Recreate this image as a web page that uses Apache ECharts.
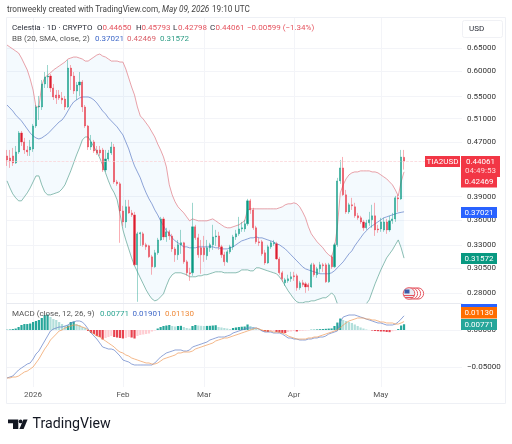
<!DOCTYPE html>
<html>
<head>
<meta charset="utf-8">
<title>TIA2USD</title>
<style>html,body{margin:0;padding:0;background:#fff}#main{width:512px;height:444px}</style>
<script src="https://cdn.jsdelivr.net/npm/echarts@6/dist/echarts.min.js"></script>
</head>
<body>
<div id="main"></div>
<script>
// daily bars from 23 Dec 2025 to 9 May 2026
var opens = [.4486,.4455,.4486,.4379,.4548,.4854,.4707,.4579,.4579,.4595,
  .4973,.5308,.5308,.5744,.5884,.5904,.5666,.5531,.5531,.5474,
  .5455,.5308,.6068,.5904,.5607,.5724,.5784,.5308,.4973,.4626,
  .4707,.4579,.4579,.4579,.4275,.4440,.4532,.4626,.4103,.4075,
  .3713,.3576,.3766,.3688,.3663,.3085,.3432,.3432,.3305,.3293,
  .3171,.3064,.3215,.3361,.3613,.3396,.3456,.3408,.3259,.3193,
  .3305,.3328,.3117,.3002,.3002,.3516,.3385,.3271,.3271,.3182,
  .3271,.3305,.3396,.3408,.3282,.3193,.3117,.3226,.3282,.3396,
  .3432,.3491,.3491,.3552,.3844,.3726,.3504,.3339,.3339,.3215,
  .3106,.3282,.3316,.3316,.3149,.3002,.2900,.2920,.2940,.2971,
  .2971,.2851,.2900,.2890,.2880,.2860,.3085,.2982,.3043,.3085,
  .3085,.2910,.3171,.3064,.3305,.4117,.4305,.3924,.3701,.3792,
  .3766,.3651,.3626,.3576,.3504,.3564,.3601,.3651,.3491,.3491,
  .3479,.3576,.3479,.3589,.3613,.3884,.3870,.44650];
var highs = [.4579,.4579,.4611,.4642,.4887,.4887,.4772,.4642,.4739,.5007,
  .5344,.5512,.5823,.5985,.6131,.5945,.5744,.5626,.5626,.5588,
  .5512,.6237,.6131,.5985,.5784,.5985,.5823,.5344,.4990,.4821,
  .4739,.4642,.4642,.4611,.4579,.4579,.4707,.4674,.4131,.4103,
  .3779,.3857,.3857,.3726,.3701,.3456,.3456,.3456,.3328,.3305,
  .3193,.3248,.3385,.3638,.3638,.3504,.3479,.3432,.3282,.3361,
  .3479,.3339,.3138,.3054,.3818,.3540,.3432,.3361,.3408,.3361,
  .3328,.3540,.3479,.3456,.3305,.3226,.3248,.3305,.3420,.3479,
  .3638,.3576,.3601,.3870,.3870,.3753,.3528,.3385,.3361,.3248,
  .3305,.3350,.3361,.3339,.3171,.3022,.2950,.2982,.3012,.3012,
  .2992,.2920,.2930,.2910,.2900,.3106,.3106,.3064,.3117,.3106,
  .3106,.3106,.3193,.3328,.4160,.4424,.4470,.3991,.3818,.3884,
  .3818,.3688,.3651,.3601,.3601,.3701,.3792,.3818,.3540,.3626,
  .3626,.3613,.3651,.3688,.3910,.3924,.4579,.45793];
var lows = [.4334,.4305,.4334,.4364,.4517,.4642,.4517,.4486,.4486,.4548,
  .4939,.5076,.5253,.5666,.5666,.5588,.5437,.5363,.5437,.5363,
  .5253,.5290,.5626,.5550,.5437,.5512,.5217,.4939,.4579,.4579,
  .4532,.4501,.4486,.4246,.4246,.4409,.4501,.4075,.4047,.3328,
  .3528,.3504,.3676,.3638,.3075,.2717,.3293,.3282,.3248,.3160,
  .2982,.3054,.3193,.3350,.3361,.3339,.3361,.3226,.3117,.3138,
  .3204,.3096,.2971,.2920,.2971,.3361,.3160,.2992,.3117,.3138,
  .3226,.3248,.3293,.3248,.3160,.3075,.3106,.3204,.3248,.3361,
  .3408,.3456,.3456,.3528,.3676,.3479,.3316,.3293,.3182,.3085,
  .3096,.3259,.3293,.3138,.2982,.2910,.2870,.2900,.2910,.2920,
  .2822,.2831,.2860,.2802,.2822,.2851,.2961,.2950,.3002,.3012,
  .2900,.2900,.3043,.3054,.3282,.4075,.3910,.3676,.3676,.3726,
  .3626,.3601,.3552,.3468,.3479,.3528,.3504,.3408,.3444,.3456,
  .3456,.3432,.3456,.3552,.3576,.3701,.3857,.42798];
var closes = [.4424,.4409,.4379,.4548,.4854,.4707,.4579,.4548,.4626,.4973,
  .5308,.5326,.5744,.5884,.5904,.5666,.5493,.5474,.5474,.5437,
  .5308,.6068,.5904,.5607,.5724,.5784,.5308,.4973,.4626,.4707,
  .4563,.4532,.4532,.4275,.4440,.4532,.4626,.4103,.4075,.3713,
  .3576,.3766,.3688,.3663,.3085,.3432,.3444,.3305,.3282,.3171,
  .3064,.3215,.3361,.3613,.3396,.3456,.3408,.3259,.3193,.3305,
  .3328,.3117,.3002,.2992,.3516,.3385,.3193,.3193,.3193,.3271,
  .3305,.3396,.3408,.3282,.3193,.3117,.3226,.3282,.3396,.3432,
  .3491,.3504,.3552,.3844,.3726,.3504,.3339,.3328,.3204,.3106,
  .3282,.3328,.3328,.3149,.3002,.2940,.2930,.2940,.2961,.2961,
  .2851,.2900,.2880,.2860,.2860,.3085,.2982,.3043,.3085,.3075,
  .2910,.3085,.3064,.3305,.4117,.4305,.3924,.3701,.3792,.3779,
  .3651,.3626,.3576,.3504,.3564,.3601,.3651,.3479,.3479,.3576,
  .3576,.3479,.3589,.3613,.3884,.3870,.4470,.44061];

var bbUpper = [.6567,.6522,.6478,.6433,.6389,.6280,.6152,.6027,.5844,.5626,
  .5308,.5308,.5724,.5864,.5924,.5965,.6027,.6068,.6110,.6152,
  .6194,.6258,.6280,.6301,.6301,.6280,.6258,.6215,.6215,.6258,
  .6301,.6345,.6367,.6323,.6301,.6258,.6215,.6215,.6215,.6194,
  .6194,.6047,.5864,.5685,.5531,.5308,.5146,.5093,.5024,.4956,
  .4871,.4788,.4674,.4579,.4470,.4319,.4061,.3924,.3831,.3766,
  .3726,.3688,.3638,.3589,.3613,.3601,.3589,.3589,.3589,.3589,
  .3601,.3613,.3589,.3564,.3540,.3516,.3504,.3504,.3516,.3528,
  .3540,.3564,.3589,.3726,.3740,.3740,.3740,.3740,.3740,.3740,
  .3740,.3740,.3740,.3740,.3753,.3766,.3792,.3805,.3805,.3818,
  .3805,.3766,.3701,.3626,.3516,.3432,.3385,.3339,.3305,.3271,
  .3226,.3193,.3171,.3271,.3516,.3951,.4061,.4146,.4203,.4232,
  .4246,.4246,.4261,.4261,.4261,.4261,.4246,.4246,.4232,.4203,
  .4174,.4146,.4103,.4061,.3991,.3910,.4103,.42469];
var bbBasis = [.5344,.5290,.5235,.5164,.5111,.5059,.4990,.4921,.4854,.4805,
  .4772,.4755,.4772,.4805,.4838,.4887,.4939,.4990,.5042,.5076,
  .5146,.5235,.5326,.5400,.5437,.5474,.5493,.5493,.5493,.5474,
  .5437,.5381,.5308,.5235,.5182,.5111,.5059,.5007,.4956,.4887,
  .4821,.4707,.4595,.4455,.4334,.4246,.4160,.4047,.3951,.3870,
  .3805,.3726,.3663,.3589,.3528,.3468,.3432,.3385,.3350,.3328,
  .3305,.3282,.3282,.3271,.3271,.3271,.3282,.3282,.3282,.3282,
  .3282,.3282,.3271,.3271,.3259,.3259,.3259,.3271,.3282,.3305,
  .3328,.3350,.3361,.3373,.3385,.3385,.3396,.3385,.3385,.3373,
  .3361,.3350,.3339,.3316,.3305,.3282,.3259,.3226,.3193,.3160,
  .3128,.3096,.3064,.3043,.3032,.3022,.3012,.3002,.2992,.2992,
  .2992,.2992,.3002,.3022,.3054,.3085,.3117,.3160,.3204,.3237,
  .3293,.3339,.3385,.3432,.3468,.3504,.3528,.3552,.3576,.3601,
  .3626,.3638,.3651,.3663,.3676,.3688,.3695,.37021];
var bbLower = [.4117,.4019,.3937,.3884,.3844,.3844,.3897,.3951,.4019,.4103,
  .4188,.4188,.4061,.3965,.3924,.3924,.3937,.3951,.3965,.4005,
  .4061,.4160,.4261,.4379,.4501,.4611,.4739,.4788,.4788,.4707,
  .4626,.4548,.4455,.4349,.4232,.4117,.4019,.3951,.3857,.3676,
  .3479,.3361,.3259,.3160,.3075,.3012,.2950,.2890,.2831,.2783,
  .2745,.2726,.2736,.2764,.2793,.2870,.2940,.2982,.3002,.3002,
  .3002,.2992,.2982,.2961,.2961,.2961,.2971,.2971,.2982,.2982,
  .2992,.3002,.3012,.3012,.3012,.3002,.3002,.3002,.3002,.3002,
  .3012,.3032,.3032,.3032,.3022,.3022,.3054,.3054,.3043,.3032,
  .3022,.3012,.3002,.2992,.2961,.2920,.2870,.2822,.2783,.2745,
  .2717,.2708,.2708,.2717,.2717,.2726,.2726,.2736,.2745,.2755,
  .2755,.2774,.2802,.2774,.2699,.2660,.2623,.2588,.2570,.2561,
  .2570,.2588,.2623,.2660,.2699,.2736,.2812,.2890,.2961,.3032,
  .3096,.3160,.3204,.3248,.3305,.3361,.3271,.31572];

var macdLine = [-.0643,-.0630,-.0617,-.0576,-.0536,-.0509,-.0483,-.0456,-.0442,-.0389,
  -.0322,-.0282,-.0214,-.0147,-.0080,-.0013,.0013,.0027,.0040,.0040,
  .0054,.0067,.0094,.0107,.0121,.0121,.0107,.0067,.0013,-.0040,
  -.0080,-.0121,-.0174,-.0228,-.0241,-.0255,-.0255,-.0268,-.0308,-.0349,
  -.0402,-.0416,-.0429,-.0456,-.0469,-.0469,-.0469,-.0469,-.0469,-.0469,
  -.0469,-.0442,-.0402,-.0362,-.0335,-.0308,-.0295,-.0282,-.0268,-.0268,
  -.0268,-.0282,-.0282,-.0268,-.0228,-.0214,-.0201,-.0188,-.0174,-.0161,
  -.0134,-.0121,-.0107,-.0094,-.0094,-.0094,-.0080,-.0067,-.0040,-.0027,
  -.0013,0,.0013,.0027,.0027,.0027,.0027,.0013,-.0013,-.0027,
  -.0027,-.0027,-.0040,-.0040,-.0040,-.0054,-.0080,-.0107,-.0107,-.0121,
  -.0121,-.0134,-.0134,-.0134,-.0121,-.0121,-.0107,-.0107,-.0094,-.0094,
  -.0080,-.0054,-.0040,-.0027,-.0013,.0107,.0174,.0188,.0201,.0201,
  .0201,.0188,.0174,.0161,.0147,.0134,.0121,.0107,.0094,.0094,
  .0080,.0067,.0067,.0067,.0080,.0107,.0147,.01901];
var signalLine = [-.0643,-.0643,-.0630,-.0630,-.0617,-.0590,-.0563,-.0550,-.0523,-.0496,
  -.0442,-.0389,-.0322,-.0255,-.0201,-.0134,-.0094,-.0054,-.0013,0,
  .0027,.0040,.0054,.0067,.0067,.0054,.0040,.0027,0,-.0027,
  -.0054,-.0080,-.0094,-.0121,-.0147,-.0174,-.0201,-.0228,-.0268,-.0295,
  -.0308,-.0335,-.0349,-.0375,-.0389,-.0402,-.0416,-.0429,-.0442,-.0442,
  -.0456,-.0456,-.0442,-.0416,-.0389,-.0375,-.0362,-.0349,-.0335,-.0308,
  -.0308,-.0295,-.0295,-.0295,-.0282,-.0255,-.0241,-.0228,-.0214,-.0201,
  -.0188,-.0174,-.0147,-.0134,-.0121,-.0107,-.0107,-.0094,-.0080,-.0067,
  -.0054,-.0040,-.0027,-.0013,0,.0013,.0027,.0013,0,-.0013,
  -.0013,-.0013,-.0027,-.0027,-.0027,-.0040,-.0054,-.0080,-.0094,-.0107,
  -.0121,-.0121,-.0121,-.0121,-.0107,-.0107,-.0094,-.0094,-.0080,-.0067,
  -.0054,-.0040,-.0027,-.0013,0,.0027,.0067,.0094,.0121,.0134,
  .0147,.0161,.0161,.0161,.0147,.0147,.0134,.0134,.0121,.0107,
  .0107,.0094,.0094,.0094,.0080,.0080,.0094,.01130];
var macdHist = [.0004,.0007,.0013,.0020,.0040,.0067,.0080,.0080,.0087,.0107,
  .0121,.0134,.0161,.0201,.0208,.0174,.0147,.0134,.0107,.0080,
  .0054,.0060,.0107,.0114,.0080,.0067,.0040,.0027,-.0013,-.0040,
  -.0054,-.0080,-.0094,-.0127,-.0107,-.0094,-.0080,-.0094,-.0101,-.0107,
  -.0114,-.0107,-.0094,-.0101,-.0114,-.0080,-.0067,-.0060,-.0054,-.0047,
  -.0020,-.0007,.0020,.0040,.0054,.0060,.0067,.0054,.0047,.0054,
  .0056,.0040,.0027,.0020,.0054,.0067,.0060,.0056,.0054,.0055,
  .0056,.0060,.0064,.0040,.0034,.0027,.0020,.0013,.0027,.0034,
  .0040,.0044,.0047,.0074,.0054,.0040,.0020,.0007,-.0007,-.0020,
  -.0027,-.0020,-.0013,-.0027,-.0034,-.0040,-.0040,-.0027,-.0020,-.0013,
  -.0020,-.0013,-.0011,-.0007,-.0004,.0004,.0005,.0008,.0011,.0013,
  .0016,.0019,.0021,.0054,.0100,.0154,.0134,.0121,.0107,.0094,
  .0074,.0054,.0034,.0020,.0007,.0001,-.0007,-.0013,-.0016,-.0020,
  -.0020,-.0027,-.0029,-.0016,-.0007,.0013,.0060,.00771];

var priceTicks = [0.65, 0.6, 0.55, 0.51, 0.47, 0.39, 0.36, 0.33, 0.305, 0.28];
var macdTicks = [0, -0.05];
var monthLabels = { '2026-01-01': '2026', '2026-02-01': 'Feb', '2026-03-01': 'Mar', '2026-04-01': 'Apr', '2026-05-01': 'May' };

// 138 bars plus the empty space to the right of the last one
var categories = [];
for (var d = 0; d < 158; d++) {
  categories.push(new Date(Date.UTC(2025, 11, 23 + d)).toISOString().slice(0, 10));
}
var isMonth = function (index, value) { return monthLabels[value] !== undefined; };

var font = 'Roboto';
var ohlc = opens.map(function (o, i) { return [o, closes[i], lows[i], highs[i]]; });

var myChart = echarts.init(document.getElementById('main'));

function label(x, y, text, color, extra) {
  return {
    type: 'text', x: x, y: y, z: 100,
    style: Object.assign({ text: text, fill: color, font: '8px ' + font, textVerticalAlign: 'middle' }, extra || {})
  };
}
function tag(x, y, w, h, bg, text) {
  return [
    { type: 'rect', shape: { x: x, y: y, width: w, height: h }, style: { fill: bg }, z: 90 },
    { type: 'text', x: x + w / 2, y: y + h / 2, z: 100,
      style: { text: text, fill: '#fff', font: '8px ' + font, textAlign: 'center', textVerticalAlign: 'middle' } }
  ];
}

var graphics = [
  { type: 'rect', shape: { x: 6.5, y: 17.5, width: 499, height: 386 }, style: { fill: 'none', stroke: '#eef0f5', lineWidth: 1 }, z: 0 },
  label(7, 10, 'tronweekly created with TradingView.com,', '#444', { font: '8.2px ' + font }),
  label(162, 10, 'May 09, 2026', '#444', { font: 'italic 8.2px ' + font }),
  label(212, 10, '19:10 UTC', '#444', { font: '8.2px ' + font }),

  label(12, 28, 'Celestia · 1D · CRYPTO', '#2a2e39'),
  label(97, 28, 'O', '#2a2e39'), label(102.5, 28, '0.44650', '#e5545f'),
  label(136, 28, 'H', '#2a2e39'), label(141.5, 28, '0.45793', '#e5545f'),
  label(173, 28, 'L', '#2a2e39'), label(178, 28, '0.42798', '#e5545f'),
  label(210, 28, 'C', '#2a2e39'), label(215.5, 28, '0.44061', '#e5545f'),
  label(247, 28, '−0.00599 (−1.34%)', '#e5545f'),

  label(12, 39, 'BB (20, SMA, close, 2)', '#555'),
  label(95, 39, '0.37021', '#3f68c8'), label(127, 39, '0.42469', '#d9606a'), label(160, 39, '0.31572', '#2d9c85'),

  label(12, 314, 'MACD (close, 12, 26, 9)', '#555'),
  label(100, 314, '0.00771', '#2da592'), label(132.5, 314, '0.01901', '#3f68c8'), label(165, 314, '0.01130', '#ef8a3a'),

  { type: 'rect', shape: { x: 462.5, y: 20.5, width: 40, height: 17, r: 2 }, style: { fill: '#fff', stroke: '#f0f1f5' }, z: 80 },
  label(469, 29, 'USD', '#2a2e39'),

  { type: 'circle', shape: { cx: 418, cy: 293.5, r: 5.6 }, style: { fill: '#fff', stroke: '#e5545f', lineWidth: 1 }, z: 85 },
  { type: 'circle', shape: { cx: 415, cy: 293.5, r: 5.6 }, style: { fill: '#fff', stroke: '#e5545f', lineWidth: 1 }, z: 86 },
  { type: 'circle', shape: { cx: 412, cy: 293.5, r: 5.6 }, style: { fill: '#fff', stroke: '#e5545f', lineWidth: 1 }, z: 87 },
  { type: 'circle', shape: { cx: 409, cy: 293.5, r: 5.8 }, style: { fill: '#e8eaf2', stroke: '#e5545f', lineWidth: 1 }, z: 88 },
  { type: 'rect', shape: { x: 404.5, y: 289.5, width: 5, height: 4 }, style: { fill: '#3b5aa8' }, z: 89 },
  { type: 'rect', shape: { x: 404, y: 295, width: 10, height: 1 }, style: { fill: '#e5545f' }, z: 89 },
  { type: 'rect', shape: { x: 405, y: 297, width: 8, height: 1 }, style: { fill: '#e5545f' }, z: 89 },

  // TradingView logo
  { type: 'polygon', shape: { points: [[8, 419.5], [18.3, 419.5], [18.3, 429], [13, 429], [13, 423.3], [8, 423.3]] }, style: { fill: '#131722' }, z: 100 },
  { type: 'circle', shape: { cx: 20.6, cy: 421.4, r: 1.9 }, style: { fill: '#131722' }, z: 100 },
  { type: 'polygon', shape: { points: [[27.6, 419.5], [23.4, 419.5], [19.4, 429], [23.6, 429]] }, style: { fill: '#131722' }, z: 100 },
  { type: 'text', x: 32.5, y: 424, z: 100, style: { text: 'TradingView', fill: '#131722', font: '14.2px ' + font, textVerticalAlign: 'middle' } }
];
graphics = graphics.concat(
  tag(425, 156, 35, 11, '#f23645', 'TIA2USD'),
  tag(461, 156, 39, 21, '#f23645', ''),
  [label(480.5, 161.5, '0.44061', '#fff', { textAlign: 'center' }),
   label(480.5, 171, '04:49:53', '#ffd5d8', { textAlign: 'center' })],
  tag(461, 177, 36, 10.5, '#f23645', '0.42469'),
  tag(461, 207, 36, 11, '#2962ff', '0.37021'),
  tag(461, 253, 36, 11, '#089981', '0.31572'),
  [{ type: 'rect', shape: { x: 461, y: 304, width: 36, height: 3 }, style: { fill: '#2962ff' }, z: 90 }],
  tag(461, 307, 36, 11.5, '#ff6d00', '0.01130'),
  tag(461, 319, 36, 11, '#26a69a', '0.00771')
);

var option = {
  animation: false,
  backgroundColor: '#fff',
  textStyle: { fontFamily: font },
  graphic: graphics,
  grid: [
    { left: 7, top: 18, width: 455, height: 285 },
    { left: 7, top: 303, width: 455, height: 84 }
  ],
  xAxis: [
    { type: 'category', gridIndex: 0, data: categories, boundaryGap: false,
      axisLine: { show: true, lineStyle: { color: '#e8eaf0' } }, axisTick: { show: false }, axisLabel: { show: false },
      splitLine: { show: true, interval: isMonth, lineStyle: { color: '#f3f4f8' } } },
    { type: 'category', gridIndex: 1, data: categories, boundaryGap: false,
      axisLine: { show: false }, axisTick: { show: false },
      axisLabel: { show: true, interval: isMonth, margin: 4, color: '#555', fontSize: 8,
        formatter: function (v) { return monthLabels[v] || ''; } },
      splitLine: { show: true, interval: isMonth, lineStyle: { color: '#f3f4f8' } } }
  ],
  yAxis: [
    { type: 'log', gridIndex: 0, position: 'right', min: 0.2706, max: 0.7206,
      axisLine: { show: false }, axisTick: { show: false, customValues: priceTicks },
      axisLabel: { customValues: priceTicks, margin: 5, color: '#333', fontSize: 8,
        formatter: function (v) { return v.toFixed(5); } },
      splitLine: { show: true, lineStyle: { color: '#f3f4f8' } } },
    { type: 'value', gridIndex: 1, position: 'right', min: -0.0764, max: 0.0362,
      axisLine: { show: false }, axisTick: { show: false, customValues: macdTicks },
      axisLabel: { customValues: macdTicks, margin: 5, color: '#333', fontSize: 8,
        formatter: function (v) { return (v < 0 ? '−' : '') + Math.abs(v).toFixed(5); } },
      splitLine: { show: true, lineStyle: { color: '#f3f4f8' } } }
  ],
  series: [
    { // fill between the bollinger bands
      type: 'custom', xAxisIndex: 0, yAxisIndex: 0, clip: true, silent: true, z: 1,
      data: [[0, bbBasis[0]]],
      renderItem: function (params, api) {
        var pts = [];
        bbUpper.forEach(function (v, i) { pts.push(api.coord([i, v])); });
        for (var i = bbLower.length - 1; i >= 0; i--) pts.push(api.coord([i, bbLower[i]]));
        return { type: 'polygon', shape: { points: pts }, style: { fill: 'rgba(33,150,243,0.05)' } };
      }
    },
    { name: 'Upper', type: 'line', xAxisIndex: 0, yAxisIndex: 0, data: bbUpper, symbol: 'none', z: 2, lineStyle: { color: '#e07a84', width: 0.7 } },
    { name: 'Basis', type: 'line', xAxisIndex: 0, yAxisIndex: 0, data: bbBasis, symbol: 'none', z: 2, lineStyle: { color: '#5f7cc6', width: 0.7 } },
    { name: 'Lower', type: 'line', xAxisIndex: 0, yAxisIndex: 0, data: bbLower, symbol: 'none', z: 2, lineStyle: { color: '#5aa292', width: 0.7 } },
    { name: 'TIA2USD', type: 'candlestick', xAxisIndex: 0, yAxisIndex: 0, data: ohlc, barWidth: 1.6, z: 3,
      itemStyle: { color: '#089981', color0: '#d81e30', borderColor: 'rgba(8,153,129,0.4)', borderColor0: 'rgba(242,54,69,0.4)', borderWidth: 1 },
      markLine: { silent: true, symbol: 'none', label: { show: false },
        lineStyle: { color: '#fbd0d4', type: 'dashed', width: 0.7 },
        data: [{ yAxis: closes[closes.length - 1] }] } },
    { name: 'Histogram', type: 'bar', xAxisIndex: 1, yAxisIndex: 1, data: macdHist, barWidth: 2.2, z: 2,
      itemStyle: {
        color: function (p) {
          var cur = macdHist[p.dataIndex], prev = p.dataIndex ? macdHist[p.dataIndex - 1] : 0;
          if (cur >= 0) return cur >= prev ? '#26a69a' : '#b2dfdb';
          return cur <= prev ? '#e8424f' : '#ffcdd2';
        }
      } },
    { name: 'MACD', type: 'line', xAxisIndex: 1, yAxisIndex: 1, data: macdLine, symbol: 'none', z: 3, lineStyle: { color: '#5f7cc6', width: 0.7 } },
    { name: 'Signal', type: 'line', xAxisIndex: 1, yAxisIndex: 1, data: signalLine, symbol: 'none', z: 3, lineStyle: { color: '#ef9a58', width: 0.7 } }
  ]
};
myChart.setOption(option);
</script>
</body>
</html>
